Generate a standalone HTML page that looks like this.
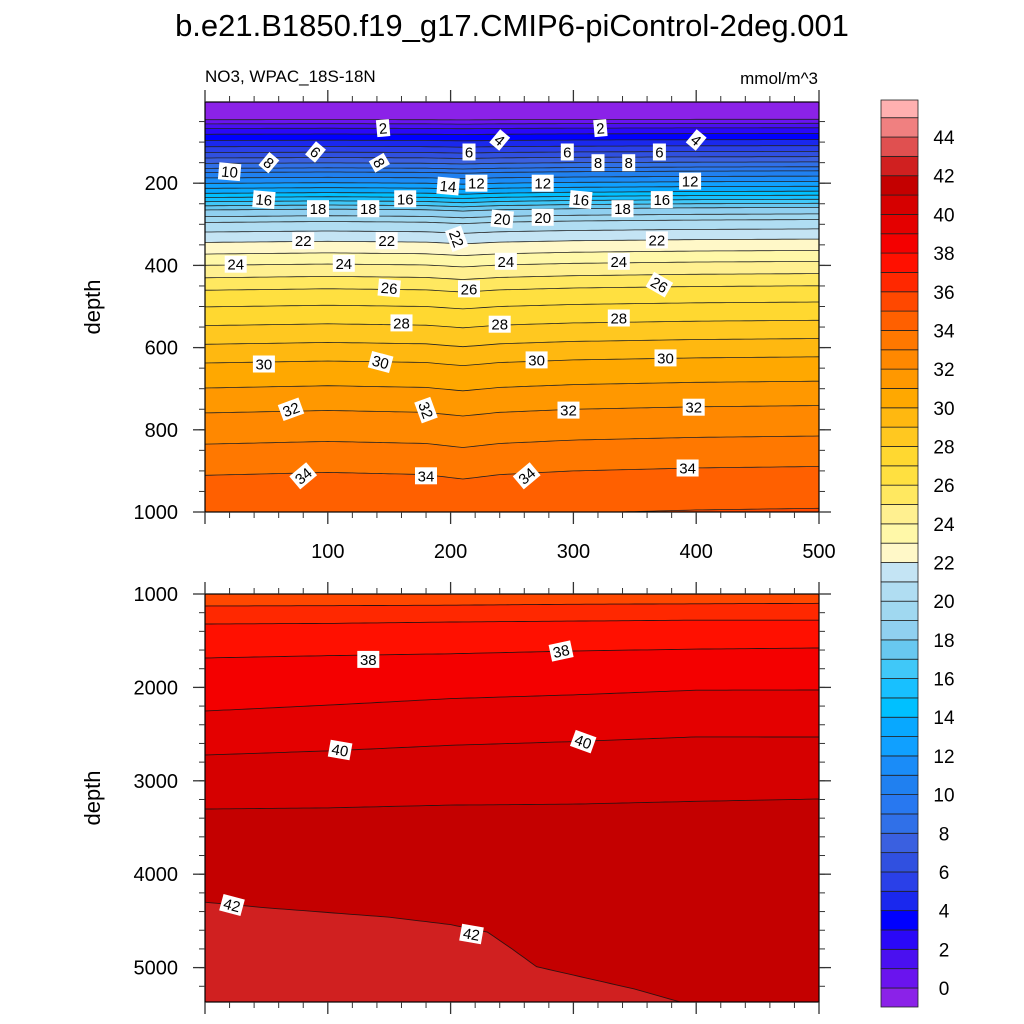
<!DOCTYPE html>
<html><head><meta charset="utf-8"><style>
body{margin:0;background:#fff;}
svg{display:block;font-family:"Liberation Sans",sans-serif;}
</style></head><body>
<svg id="chart" width="1024" height="1024" viewBox="0 0 1024 1024">
<text x="512" y="36" font-size="31" text-anchor="middle">b.e21.B1850.f19_g17.CMIP6-piControl-2deg.001</text>
<text x="205" y="82" font-size="17">NO3, WPAC_18S-18N</text>
<text x="818" y="84" font-size="17" text-anchor="end">mmol/m^3</text>
<text transform="translate(100,307) rotate(-90)" font-size="22" text-anchor="middle">depth</text>
<text transform="translate(100,798) rotate(-90)" font-size="22" text-anchor="middle">depth</text>
<g id="top"></g><g id="bot"></g><g id="cbar"></g>
</svg>
<script>
// colour table: index 0 = below level 0, index k = between level k-1 and k, last = above 45
const bandColors=["#8b22e8","#6a14ee","#4a10f0","#2a08f8","#0000ff","#1a28ee","#2a40e8","#3050e0","#3a60e0","#3070e8","#2878f0","#2080f0","#1a8cf8","#10a0ff","#08a8ff","#00c0ff","#18c0ff","#40c8f8","#68c8f0","#90d0f0","#a0d8f0","#b0ddf2","#c4e4f4","#fff8c8","#fff8a8","#fff090","#ffe860","#ffe040","#ffd830","#ffc820","#ffb810","#ffa800","#ff9800","#ff8800","#ff7800","#ff6000","#ff4800","#ff2800","#ff1000","#f40000","#e40000","#d60000","#c40000","#d02020","#e05050","#f08080","#ffb0b0"];
const cbarLabels=[0,2,4,6,8,10,12,14,16,18,20,22,24,26,28,30,32,34,36,38,40,42,44];
// top panel contour data
const topLevels=[0,1,2,3,4,5,6,7,8,9,10,11,12,13,14,15,16,17,18,19,20,21,22,23,24,25,26,27,28,29,30,31,32,33,34,35];
const topDepths=[45,55,66,80,95,110,124,137,150,162,172,185,198,210,222,232,242,252,262,278,292,315,340,368,395,425,455,495,540,585,630,690,750,825,900,1003];
const topShapeX=[0,100,180,210,240,300,400,500];
const topShape=[0.012,0.004,0.01,0.022,0.01,0,-0.008,-0.012];
// bottom panel contour data
const botX=[0,100,200,300,400,500];
const botLevels=[36,37,38,39,40,41];
const botDepths=[[1128,1125,1120,1110,1105,1100],[1321,1315,1300,1290,1280,1280],[1685,1660,1640,1610,1590,1578],[2253,2190,2120,2080,2030,2028],[2724,2680,2620,2580,2530,2531],[3302,3290,3260,3250,3220,3195]];
const lvl42X=[0,50,100,150,200,230,250,270,300,350,390,450,500];
const lvl42D=[4300,4360,4410,4460,4540,4620,4800,4990,5080,5230,5380,5420,5420];
const topLabels=[[145,66,"2",-5],[322,66,"2",-5],[240,95,"4",40],[400,95,"4",40],[90,124,"6",40],[215,124,"6",0],[295,124,"6",0],[370,124,"6",0],[52,150,"8",40],[142,150,"8",60],[320,150,"8",0],[345,150,"8",0],[20,172,"10",5],[221,200,"12",0],[275,200,"12",0],[395,195,"12",0],[198,207,"14",5],[48,240,"16",5],[163,238,"16",0],[306,240,"16",5],[372,240,"16",0],[92,262,"18",0],[133,262,"18",0],[340,262,"18",0],[242,287,"20",5],[275,283,"20",0],[80,340,"22",0],[148,340,"22",0],[205,335,"22",70],[368,338,"22",0],[25,397,"24",0],[113,395,"24",0],[245,390,"24",0],[337,390,"24",0],[150,455,"26",5],[215,457,"26",0],[370,447,"26",30],[160,540,"28",0],[240,543,"28",0],[337,528,"28",0],[48,640,"30",0],[143,635,"30",15],[270,630,"30",0],[375,625,"30",0],[70,750,"32",-20],[180,752,"32",70],[296,752,"32",0],[398,745,"32",0],[80,912,"34",-40],[180,912,"34",0],[262,912,"34",-40],[393,893,"34",0]];
const botLabels=[[133,1700,"38",0],[290,1610,"38",-12],[110,2670,"40",10],[308,2580,"40",20],[22,4330,"42",15],[217,4640,"42",10]];

const NS="http://www.w3.org/2000/svg";
function mk(parent,tag,attrs){const e=document.createElementNS(NS,tag);for(const k in attrs)e.setAttribute(k,attrs[k]);parent.appendChild(e);return e;}
const L=205,R=819;
const xs=v=>L+v*(R-L)/500;
const yTop=d=>101+d*0.411;
const yBot=d=>594+(d-1000)*0.0934;
function interp(X,Y,x){for(let i=0;i<X.length-1;i++){if(x<=X[i+1]){const t=(x-X[i])/(X[i+1]-X[i]);return Y[i]+t*(Y[i+1]-Y[i]);}}return Y[Y.length-1];}

function panel(g,T,B,yf,name){
  const clipId="clip-"+name;
  const cp=mk(g,"clipPath",{id:clipId});mk(cp,"rect",{x:L,y:T,width:R-L,height:B-T});
  const inner=mk(g,"g",{"clip-path":"url(#"+clipId+")"});
  return inner;
}
function lineD(yfun){let d="";for(let x=0;x<=500;x+=5){d+=(x?"L":"M")+xs(x).toFixed(1)+","+yfun(x).toFixed(1);}return d;}

// TOP PANEL
const gt=document.getElementById("top");
const it=panel(gt,102,512,yTop,"top");
const bgT=mk(it,"rect",{x:L,y:102,width:R-L,height:410,fill:bandColors[36]});


const tDepth=(i,x)=>topDepths[i]*(1+interp(topShapeX,topShape,x));
for(let i=topLevels.length-1;i>=0;i--){
  const lv=topLevels[i];
  const d="M"+L+",90"+lineD(x=>yTop(tDepth(i,x))).replace("M","L")+"L"+R+",90Z";
  const p=mk(it,"path",{d:d,fill:bandColors[lv]});
  
  
}
for(let i=0;i<topLevels.length;i++){
  const p=mk(it,"path",{d:lineD(x=>yTop(tDepth(i,x))),fill:"none",stroke:"#222",'stroke-width':0.8});
  
  
}
// BOTTOM PANEL
const gb=document.getElementById("bot");
const ib=panel(gb,594,1002,yBot,"bot");
const bgB=mk(ib,"rect",{x:L,y:594,width:R-L,height:408,fill:bandColors[42]});


{
  const d="M"+L+",580"+lineD(x=>yBot(interp(lvl42X,lvl42D,x))).replace("M","L")+"L"+R+",580Z";
  const below=mk(ib,"rect",{x:L,y:594,width:R-L,height:408,fill:bandColors[43]});
  
  
  const p=mk(ib,"path",{d:d,fill:bandColors[42]});
  
  
}
for(let i=botLevels.length-1;i>=0;i--){
  const lv=botLevels[i];
  const d="M"+L+",580"+lineD(x=>yBot(interp(botX,botDepths[i],x))).replace("M","L")+"L"+R+",580Z";
  const p=mk(ib,"path",{d:d,fill:bandColors[lv]});
  
  
}
for(let i=0;i<botLevels.length;i++){
  const p=mk(ib,"path",{d:lineD(x=>yBot(interp(botX,botDepths[i],x))),fill:"none",stroke:"#331010",'stroke-width':0.9});
  
  
}
{
  const p=mk(ib,"path",{d:lineD(x=>yBot(interp(lvl42X,lvl42D,x))),fill:"none",stroke:"#331010",'stroke-width':0.9});
  
  
}
function labels(g,arr,yf,nm){
  for(const [x,d,t,rot] of arr){
    const cx=xs(x),cy=yf(d);
    const gg=mk(g,"g",{transform:`translate(${cx.toFixed(1)},${cy.toFixed(1)}) rotate(${rot})`});
    
    
    const w=t.length>1?22:13;
    mk(gg,"rect",{x:-w/2,y:-8.5,width:w,height:17,fill:"#fff"});
    mk(gg,"text",{x:0,y:5.5,'font-size':15,'text-anchor':'middle'}).textContent=t;
  }
}
labels(it,topLabels,yTop,"top");
labels(ib,botLabels,yBot,"bottom");

// axes
function axes(g,T,B,yTicks,yMinor,yf,xLabels,name){
  const f=mk(g,"rect",{x:L,y:T,width:R-L,height:B-T,fill:"none",stroke:"#000",'stroke-width':1.2});
  
  
  for(let v=0;v<=500;v+=20){
    const maj=v%100===0,len=maj?12:6,x=xs(v);
    mk(g,"line",{x1:x,y1:B,x2:x,y2:B+len,stroke:"#333",'stroke-width':maj?1.3:1});
    mk(g,"line",{x1:x,y1:T,x2:x,y2:T-len,stroke:"#333",'stroke-width':maj?1.3:1});
    if(maj&&v>0&&xLabels){const t=mk(g,"text",{x:x,y:B+46,'font-size':20,'text-anchor':'middle'});t.textContent=v;
      }
  }
  for(const v of yMinor){const y=yf(v);if(y<T-0.5||y>B+0.5)continue;
    mk(g,"line",{x1:L,y1:y,x2:L-6,y2:y,stroke:"#333"});mk(g,"line",{x1:R,y1:y,x2:R+6,y2:y,stroke:"#333"});}
  for(const v of yTicks){const y=yf(v);
    mk(g,"line",{x1:L,y1:y,x2:L-12,y2:y,stroke:"#333",'stroke-width':1.3});mk(g,"line",{x1:R,y1:y,x2:R+12,y2:y,stroke:"#333",'stroke-width':1.3});
    const t=mk(g,"text",{x:178,y:y+7,'font-size':20,'text-anchor':'end'});t.textContent=v;
    }
}
const tm=[];for(let v=50;v<1000;v+=50)tm.push(v);
axes(gt,102,512,[200,400,600,800,1000],tm,yTop,true,"top");
const bm=[];for(let v=1000;v<=5400;v+=200)bm.push(v);
axes(gb,594,1002,[1000,2000,3000,4000,5000],bm,yBot,false,"bottom");

// colorbar
const cb=document.getElementById("cbar");
const cy=v=>988-v*19.34;
for(let k=0;k<bandColors.length;k++){
  const yb=cy(k-1),yt=cy(k);
  const r=mk(cb,"rect",{x:881,y:Math.max(yt,100),width:37,height:Math.min(yb,1007)-Math.max(yt,100),fill:bandColors[k],stroke:"#222",'stroke-width':0.8});
  
  
}
for(const v of cbarLabels){
  const t=mk(cb,"text",{x:944,y:cy(v)+7,'font-size':19,'text-anchor':'middle'});t.textContent=v;
  
}
</script>
</body></html>
